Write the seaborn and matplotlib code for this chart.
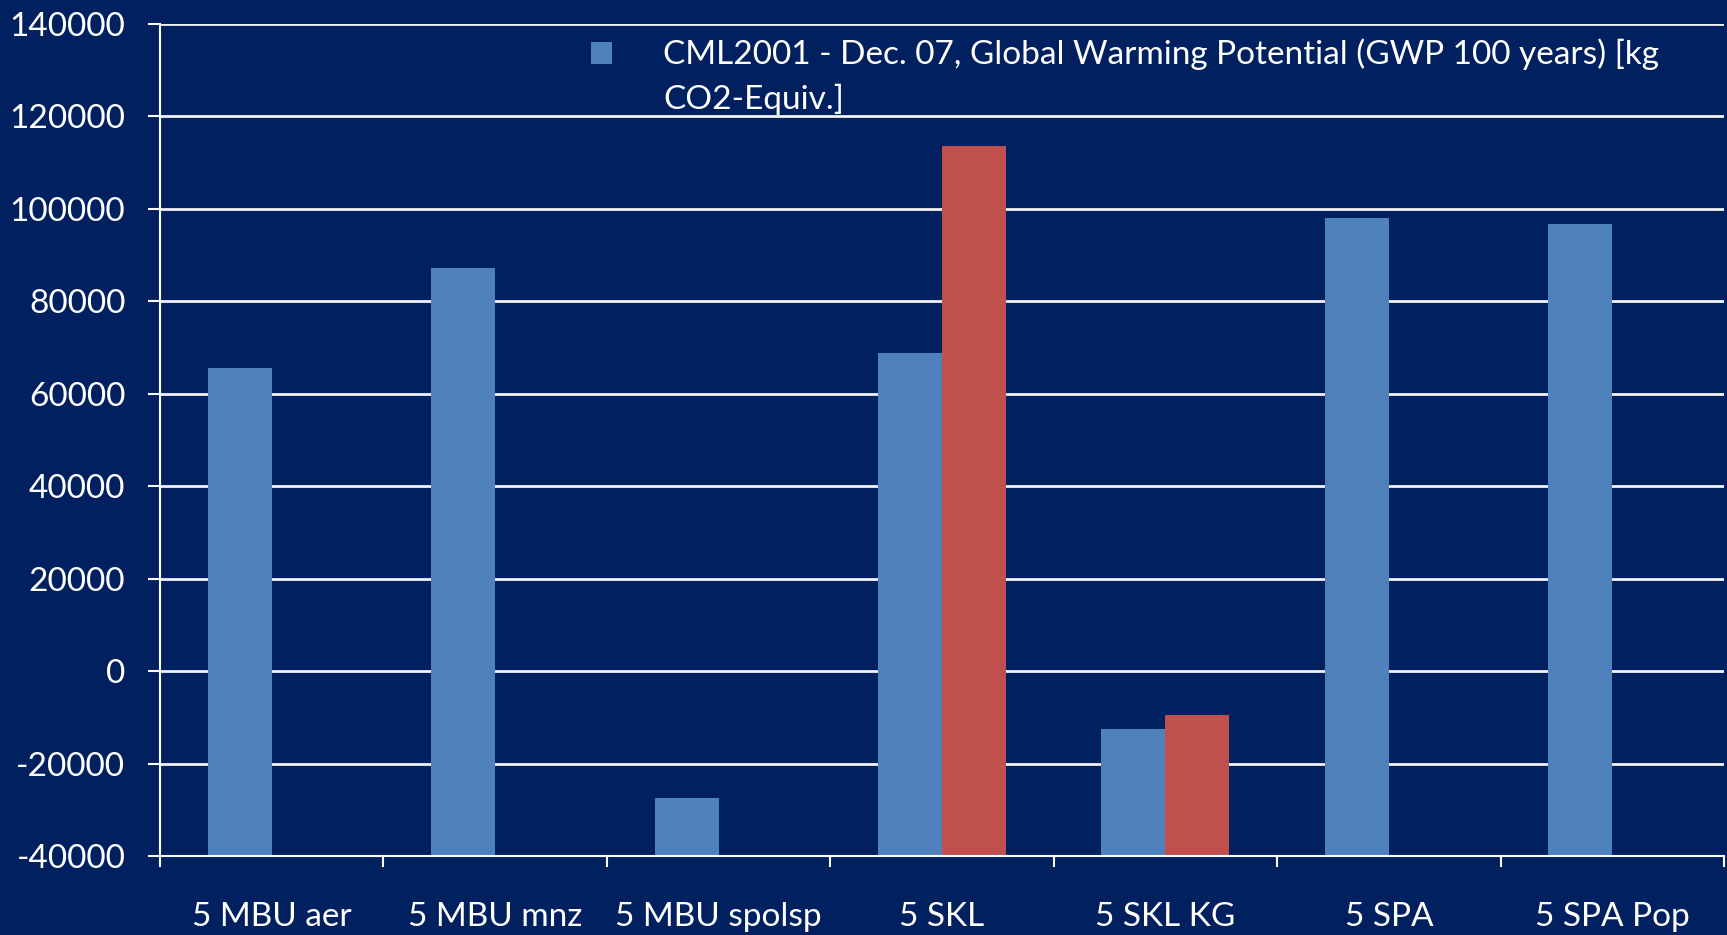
import matplotlib
matplotlib.use("Agg")
import matplotlib.pyplot as plt
from matplotlib.patches import Rectangle
from matplotlib.legend_handler import HandlerPatch
import pandas as pd
import seaborn as sns

# values
categories = ["5 MBU aer", "5 MBU mnz", "5 MBU spolsp", "5 SKL", "5 SKL KG", "5 SPA", "5 SPA Pop"]
gwp = [65500, 87300, -27400, 68900, -12600, 98000, 96700]
red_cats = ["5 SKL", "5 SKL KG"]
red_vals = [113500, -9550]

gwp_label = "CML2001 - Dec. 07, Global Warming Potential (GWP 100 years) [kg\nCO2-Equiv.]"
red_label = "series 2"
yticks = list(range(-40000, 140001, 20000))

bg = "#002060"
blue = "#4F81BD"
red = "#C0504D"
fs = 24

df = pd.concat([
    pd.DataFrame({"cat": categories, "value": gwp, "series": gwp_label}),
    pd.DataFrame({"cat": red_cats, "value": red_vals, "series": red_label}),
])

sns.set_style("white")
plt.rcParams["font.family"] = ["Lato", "DejaVu Sans"]
plt.rcParams["axes.unicode_minus"] = False

fig = plt.figure(figsize=(17.27, 9.35), dpi=100, facecolor=bg)
ax = fig.add_axes([160 / 1727, 1 - 856 / 935, (1724 - 160) / 1727, (856 - 24) / 935])
ax.set_facecolor(bg)

sns.barplot(data=df, x="cat", y="value", hue="series", order=categories,
            hue_order=[gwp_label, red_label], palette=[blue, red], saturation=1,
            width=0.573, dodge=True, legend=False, linewidth=0, ax=ax, zorder=3)

ymin = yticks[0]
# Excel draws the bars up from the axis crossing (the minimum), not from zero
for p in ax.patches:
    end = p.get_y() + p.get_height()
    p.set_y(ymin)
    p.set_height(end - ymin)

ax.set_ylim(ymin, yticks[-1])
ax.set_xlim(-0.5, len(categories) - 0.5)
ax.set_yticks(yticks)
ax.set_yticklabels([str(v) for v in yticks])
ax.set_xlabel("")
ax.set_ylabel("")

ax.yaxis.grid(True, color="#F2F2F2", linewidth=2, zorder=1)
ax.set_axisbelow(True)
for s in ["top", "right"]:
    ax.spines[s].set_visible(False)
for s in ["left", "bottom"]:
    ax.spines[s].set_color("white")
    ax.spines[s].set_linewidth(1.5)
    ax.spines[s].set_zorder(4)

ax.tick_params(axis="y", colors="white", labelsize=fs, length=9, width=1.5, pad=16, direction="out", left=True)
ax.tick_params(axis="x", which="major", colors="white", labelsize=fs, length=0, pad=33)
ax.set_xticks([i - 0.5 for i in range(len(categories) + 1)], minor=True)
ax.tick_params(axis="x", which="minor", color="white", length=8, width=1.5, direction="out", bottom=True)

linesp = 1.57


def first_line_patch(legend, orig_handle, xdescent, ydescent, width, height, fontsize):
    # keep the square level with the first line of the wrapped label
    shift = 0.5 * linesp * 0.9 * fontsize
    return Rectangle((-xdescent, -ydescent + shift), width, height)


handle = ax.containers[0].patches[0]
leg = ax.legend([handle], [gwp_label], loc="upper left",
                bbox_to_anchor=(591 / 1727, 1 - 38 / 935), bbox_transform=fig.transFigure,
                frameon=False, fontsize=fs, handlelength=0.63, handleheight=0.63,
                handletextpad=1.53, borderpad=0, borderaxespad=0,
                handler_map={handle: HandlerPatch(patch_func=first_line_patch)})
for t in leg.get_texts():
    t.set_color("white")
    t.set_linespacing(linesp)

fig.savefig("out.png", dpi=100, facecolor=bg)
